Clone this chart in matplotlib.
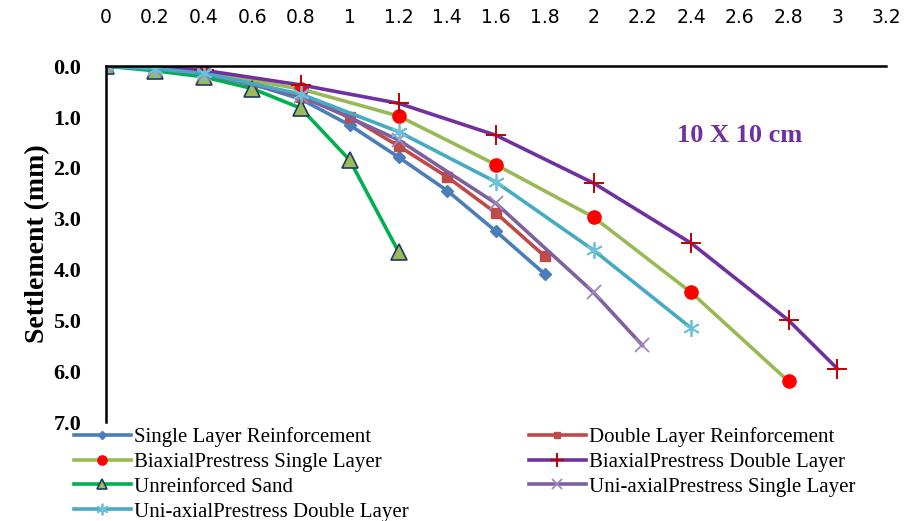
import matplotlib
matplotlib.use("Agg")
from matplotlib import pyplot as plt

# load (x) and settlement (mm) per series
x_single = [0, 0.2, 0.4, 0.6, 0.8, 1.0, 1.2, 1.4, 1.6, 1.8]
y_single = [0, 0.05, 0.15, 0.35, 0.65, 1.16, 1.79, 2.45, 3.25, 4.09]

x_double = [0, 0.2, 0.4, 0.6, 0.8, 1.0, 1.2, 1.4, 1.6, 1.8]
y_double = [0, 0.05, 0.15, 0.33, 0.6, 1.0, 1.57, 2.18, 2.89, 3.74]

x_bi_single = [0, 0.2, 0.4, 0.8, 1.2, 1.6, 2.0, 2.4, 2.8]
y_bi_single = [0, 0.02, 0.12, 0.45, 0.98, 1.94, 2.97, 4.45, 6.2]

x_bi_double = [0, 0.2, 0.4, 0.8, 1.2, 1.6, 2.0, 2.4, 2.8, 3.0]
y_bi_double = [0, 0.02, 0.08, 0.37, 0.73, 1.36, 2.30, 3.48, 5.0, 5.95]

x_unreinf = [0, 0.2, 0.4, 0.6, 0.8, 1.0, 1.2]
y_unreinf = [0, 0.09, 0.21, 0.44, 0.83, 1.85, 3.65]

x_uni_single = [0, 0.2, 0.4, 0.8, 1.2, 1.6, 2.0, 2.2]
y_uni_single = [0, 0.05, 0.15, 0.58, 1.45, 2.7, 4.45, 5.49]

x_uni_double = [0, 0.2, 0.4, 0.8, 1.2, 1.6, 2.0, 2.4]
y_uni_double = [0, 0.05, 0.14, 0.55, 1.29, 2.28, 3.62, 5.15]

x_ticks = [0, 0.2, 0.4, 0.6, 0.8, 1, 1.2, 1.4, 1.6, 1.8, 2, 2.2, 2.4, 2.6, 2.8, 3, 3.2]
x_ticklabels = ["0", "0.2", "0.4", "0.6", "0.8", "1", "1.2", "1.4", "1.6", "1.8",
                "2", "2.2", "2.4", "2.6", "2.8", "3", "3.2"]
y_ticks = [0, 1, 2, 3, 4, 5, 6, 7]

fig = plt.figure(figsize=(9.06, 5.21), dpi=100)
ax = fig.add_axes([0.117, 0.19, 0.861, 0.683])

lw = 2.6
h1, = ax.plot(x_single, y_single, color="#4A7EBB", lw=lw, marker="D", ms=6,
              mfc="#4A7EBB", mec="#4A7EBB", label="Single Layer Reinforcement")
h2, = ax.plot(x_double, y_double, color="#BE4B48", lw=lw, marker="s", ms=6.5,
              mfc="#BE4B48", mec="#BE4B48", label="Double Layer Reinforcement")
h3, = ax.plot(x_bi_single, y_bi_single, color="#98B954", lw=lw, marker="o", ms=9.5,
              mfc="#FF0000", mec="#FF0000", label="BiaxialPrestress Single Layer")
h4, = ax.plot(x_bi_double, y_bi_double, color="#7030A0", lw=lw, marker="+", ms=14,
              mew=1.4, mec="#C00000", label="BiaxialPrestress Double Layer")
h5, = ax.plot(x_unreinf, y_unreinf, color="#00B050", lw=lw, marker="^", ms=11,
              mfc="#9BBB59", mec="#1F3864", mew=1.2, label="Unreinforced Sand")
h6, = ax.plot(x_uni_single, y_uni_single, color="#7D60A0", lw=lw, marker="x", ms=10,
              mew=1.3, mec="#9C88BC", label="Uni-axialPrestress Single Layer")
h7, = ax.plot(x_uni_double, y_uni_double, color="#46AAC5", lw=lw, marker=(6, 2, 0), ms=12,
              mew=1.3, mec="#6CC0D8", label="Uni-axialPrestress Double Layer")

ax.set_xlim(0, 3.2)
ax.set_ylim(7, 0)
ax.xaxis.tick_top()
ax.set_xticks(x_ticks)
ax.set_xticklabels(x_ticklabels, family="DejaVu Sans", fontsize=13.5)
ax.set_yticks(y_ticks)
ax.set_yticklabels([f"{v:.1f}" for v in y_ticks], family="Liberation Serif",
                   fontsize=16, fontweight="bold")
ax.tick_params(axis="both", length=0)
ax.tick_params(axis="x", pad=28)
ax.tick_params(axis="y", pad=18)
for side in ["right", "bottom"]:
    ax.spines[side].set_visible(False)
ax.spines["top"].set_linewidth(1.8)
ax.spines["left"].set_linewidth(1.8)

ax.set_ylabel("Settlement (mm)", family="Liberation Serif", fontsize=20,
              fontweight="bold", labelpad=2)

ax.text(2.6, 1.37, "10 X 10 cm", color="#7030A0", family="Liberation Serif",
        fontsize=19, fontweight="bold", ha="center", va="center")

handles = [h1, h3, h5, h7, h2, h4, h6]
leg = fig.legend(handles=handles, labels=[h.get_label() for h in handles],
                 ncol=2, loc="upper left", bbox_to_anchor=(0.082, 0.18),
                 frameon=False, prop={"family": "Liberation Serif", "size": 15},
                 handlelength=2.7, handletextpad=0.15, columnspacing=5.8,
                 labelspacing=0.25, borderpad=0, borderaxespad=0)
for h in leg.legend_handles:
    h.set_markersize(h.get_markersize() * 0.7)

fig.savefig("out.png", dpi=100)
